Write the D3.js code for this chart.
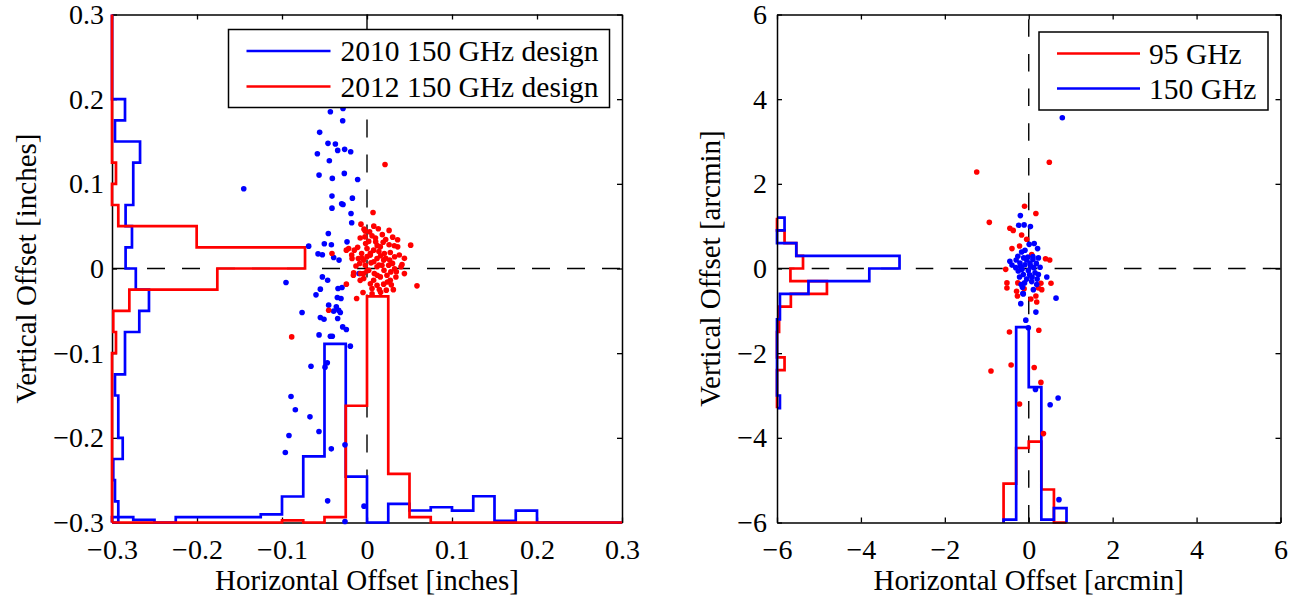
<!DOCTYPE html>
<html><head><meta charset="utf-8">
<script src="https://cdn.jsdelivr.net/npm/d3@7"></script>
<style>
body{margin:0;background:#fff}
svg{display:block}
text{font-family:"Liberation Serif","Times New Roman",serif;fill:#000}
</style>
</head><body>
<svg id="chart" width="1296" height="598"></svg>
<script>
// ---------------- DATA ----------------
// Left panel (inches)
const leftTicks = [-0.3,-0.2,-0.1,0,0.1,0.2,0.3];
const leftTickLabels = ["\u22120.3","\u22120.2","\u22120.1","0","0.1","0.2","0.3"];
const leftEdges = [-0.3,-0.275,-0.25,-0.225,-0.2,-0.175,-0.15,-0.125,-0.1,-0.075,-0.05,-0.025,0,0.025,0.05,0.075,0.1,0.125,0.15,0.175,0.2,0.225,0.25,0.275,0.3];
// vertical histograms (bins along y, low to high): x value reached
const left2010VertHist = [-0.2926,-0.2965,-0.2985,-0.2874,-0.2926,-0.2926,-0.2965,-0.2847,-0.2847,-0.2679,-0.2565,-0.272,-0.284,-0.2765,-0.284,-0.275,-0.275,-0.267,-0.2965,-0.2847,-0.3,-0.3,-0.3,-0.3];
const left2012VertHist = [-0.3,-0.3,-0.3,-0.3,-0.3,-0.3,-0.3,-0.3,-0.2953,-0.2985,-0.2796,-0.1761,-0.0729,-0.2004,-0.2926,-0.3,-0.2953,-0.3,-0.3,-0.3,-0.3,-0.3,-0.3,-0.3];
// horizontal histograms (bins along x, low to high): y value reached
const left2010HorizHist = [-0.2937,-0.297,-0.3,-0.2937,-0.2937,-0.2937,-0.2937,-0.2905,-0.2693,-0.222,-0.089,-0.2457,-0.3,-0.278,-0.2858,-0.282,-0.286,-0.269,-0.298,-0.286,-0.3,-0.3,-0.3,-0.3];
const left2012HorizHist = [-0.3,-0.3,-0.3,-0.3,-0.3,-0.3,-0.3,-0.3,-0.2976,-0.3,-0.2937,-0.1621,-0.033,-0.2425,-0.2937,-0.3,-0.3,-0.3,-0.3,-0.3,-0.3,-0.3,-0.3,-0.3];
const left2010Points = [[-0.0431,0.1852],[-0.0282,0.1891],[-0.0286,0.1745],[-0.0557,0.1608],[-0.0459,0.1478],[-0.0372,0.1470],[-0.0345,0.1395],[-0.0263,0.1407],[-0.0192,0.1379],[-0.0584,0.1355],[-0.0443,0.1273],[-0.0564,0.1103],[-0.0408,0.1064],[-0.0267,0.1123],[-0.0110,0.1052],[-0.1450,0.0942],[-0.0412,0.0855],[-0.0172,0.0831],[-0.0412,0.0713],[-0.0298,0.0764],[-0.0282,0.0756],[-0.0188,0.0650],[-0.0180,0.0540],[-0.0455,0.0414],[-0.0235,0.0315],[-0.0502,0.0292],[-0.0419,0.0280],[-0.0686,0.0264],[-0.0576,0.0173],[-0.0525,0.0162],[-0.0392,0.0130],[-0.0329,0.0099],[-0.0094,-0.0059],[-0.0953,-0.0165],[-0.0525,-0.0099],[-0.0463,-0.0138],[-0.0549,-0.0244],[-0.0600,-0.0311],[-0.0341,-0.0236],[-0.0294,-0.0225],[-0.0349,-0.0343],[-0.0306,-0.0355],[-0.0451,-0.0433],[-0.0361,-0.0453],[-0.0333,-0.0493],[-0.0392,-0.0504],[-0.0314,-0.0520],[-0.0764,-0.0520],[-0.0549,-0.0579],[-0.0506,-0.0599],[-0.0345,-0.0591],[-0.0286,-0.0690],[-0.0243,-0.0721],[-0.0564,-0.0784],[-0.0431,-0.0800],[-0.0408,-0.0800],[-0.0196,-0.0917],[-0.0659,-0.1154],[-0.0494,-0.1165],[-0.0467,-0.1114],[-0.0894,-0.1512],[-0.0843,-0.1669],[-0.0671,-0.1752],[-0.0918,-0.1972],[-0.0565,-0.1925],[-0.0961,-0.2173],[-0.0420,-0.2130],[-0.0259,-0.2083],[-0.0463,-0.2744],[-0.0035,-0.2807],[-0.0259,-0.2988]];
const left2012Points = [[0.0212,0.1229],[0.0071,0.0662],[-0.0071,0.0524],[-0.0035,0.0465],[0.0031,0.0433],[0.0133,0.0469],[-0.0024,0.0374],[0.0059,0.0386],[0.0302,0.0370],[-0.0016,0.0296],[0.0102,0.0315],[0.0220,0.0343],[0.0321,0.0268],[0.0361,0.0256],[0.0514,0.0276],[-0.0149,0.0217],[-0.0063,0.0177],[0.0000,0.0236],[0.0078,0.0217],[0.0157,0.0256],[0.0204,0.0177],[0.0274,0.0189],[-0.0216,0.0236],[-0.0243,0.0217],[-0.0102,0.0118],[-0.0039,0.0099],[0.0039,0.0158],[0.0118,0.0118],[0.0196,0.0099],[0.0267,0.0099],[0.0325,0.0138],[0.0412,0.0047],[-0.0176,0.0118],[-0.0086,0.0059],[-0.0020,0.0039],[0.0047,0.0067],[0.0118,0.0020],[0.0176,0.0039],[0.0255,0.0039],[0.0325,-0.0004],[0.0345,-0.0039],[-0.0157,-0.0051],[-0.0078,-0.0059],[0.0000,-0.0028],[0.0086,-0.0059],[0.0157,-0.0099],[0.0235,-0.0079],[0.0274,-0.0138],[0.0588,-0.0205],[-0.0039,-0.0118],[0.0078,-0.0138],[0.0118,-0.0197],[0.0196,-0.0185],[0.0286,-0.0193],[-0.0243,-0.0185],[0.0059,-0.0236],[0.0145,-0.0248],[0.0227,-0.0256],[-0.0047,-0.0284],[-0.0122,-0.0355],[-0.0412,0.0177],[-0.0451,-0.0493],[-0.0886,-0.0808],[0.002,0.032],[0.012,0.027],[0.018,0.040],[-0.008,0.036],[0.026,0.028],[0.004,0.018],[0.014,0.020],[-0.011,0.025],[0.022,0.012],[0.030,0.006],[-0.006,0.012],[0.008,0.008],[0.016,0.015],[-0.013,0.003],[0.002,-0.002],[0.020,-0.002],[0.028,-0.004],[0.012,-0.008],[-0.008,-0.014],[0.004,-0.018],[0.016,-0.028],[0.024,-0.016],[0.034,-0.010],[0.038,0.016],[0.044,0.012],[-0.018,0.016],[-0.002,0.044],[0.008,0.050],[0.026,0.045],[0.036,0.034],[-0.004,-0.006],[0.010,0.036],[0.031,-0.025],[0.000,0.014],[0.019,0.031],[-0.016,-0.008],[0.040,0.002],[0.006,-0.030],[0.044,-0.006],[0.014,0.004]];

// Right panel (arcmin)
const rightTicks = [-6,-4,-2,0,2,4,6];
const rightTickLabels = ["\u22126","\u22124","\u22122","0","2","4","6"];
const rightVertEdges = [-3.3,-3.0,-2.7,-2.4,-2.1,-1.8,-1.5,-1.2,-0.9,-0.6,-0.3,0,0.3,0.6,0.9,1.2];
const right95VertHist  = [-6,-6,-6,-5.82,-6,-6,-5.95,-5.95,-5.67,-4.81,-5.68,-5.38,-5.54,-5.82,-6];
const right150VertHist = [-5.93,-6,-6,-6,-6,-6,-6,-5.93,-5.93,-5.25,-3.80,-3.08,-5.54,-6,-5.82];
const rightHorizEdges = [-0.6,-0.3,0,0.3,0.6,0.9];
const right95HorizHist  = [-5.08,-4.24,-4.09,-5.22,-6];
const right150HorizHist = [-5.93,-1.387,-2.80,-5.93,-5.66];
const right95Points = [[0.49,2.51],[-1.24,2.28],[-0.94,1.09],[-0.10,1.47],[0.17,1.30],[-0.45,0.95],[-0.37,0.90],[-0.17,0.79],[-0.05,0.69],[-0.22,0.53],[-0.40,0.47],[0.07,0.33],[0.40,0.23],[0.50,0.20],[-0.55,-0.02],[0.53,-0.35],[-0.52,-0.34],[-0.52,-0.46],[-0.29,-0.54],[-0.27,-0.65],[0.23,-0.46],[0.31,-0.50],[0.29,-0.35],[0.05,-0.72],[0.19,-0.79],[0.17,-0.65],[-0.11,-0.48],[-0.26,-0.34],[-0.46,-1.50],[0.24,-1.46],[-0.90,-2.42],[-0.42,-2.28],[0.13,-2.34],[0.29,-2.69],[-0.22,-3.20],[0.35,-3.90]];
const right150Points = [[0.80,3.56],[-0.20,1.25],[-0.24,1.02],[-0.11,1.03],[0.04,0.99],[0.13,0.59],[0.21,0.47],[0.01,0.57],[0.43,-0.20],[0.65,-0.70],[-0.19,-0.83],[0.17,-1.03],[-0.14,-0.59],[0.11,-0.50],[-0.07,-1.22],[-0.01,-1.40],[0.16,-2.86],[0.70,-3.06],[0.51,-3.22],[0.72,-5.46],[-0.17,0.39],[-0.09,0.43],[-0.26,0.29],[0.23,0.25],[-0.45,0.17],[-0.40,0.08],[-0.31,0.02],[-0.21,0.13],[-0.09,0.09],[0.03,0.13],[0.27,0.03],[-0.25,-0.06],[-0.13,-0.14],[-0.01,-0.05],[0.15,-0.10],[0.23,-0.14],[-0.18,-0.38],[-0.10,-0.34],[-0.15,-0.44],[0.07,-0.31],[-0.13,-0.60],[0.19,-0.38],[-0.05,0.20],[0.10,0.22],[-0.12,0.25],[0.05,0.05],[-0.20,0.05],[0.12,0.02],[-0.30,0.20],[0.18,0.12],[-0.02,0.27],[0.08,-0.20],[-0.22,-0.20],[-0.05,-0.25],[0.02,-0.15],[-0.16,-0.02],[0.20,-0.25],[0.10,0.28]];

const leftLegend = ["2010 150 GHz design","2012 150 GHz design"];
const rightLegend = ["95 GHz","150 GHz"];
const BLUE = "#0000ff", RED = "#ff0000";

// ---------------- DRAW ----------------
const svg = d3.select("#chart");
const TOP = 14.5, BOTTOM = 522.5;
const FONT = "Liberation Serif, Times New Roman, serif";

function stairsPath(edges, vals, base, xs, ys, vertical){
  const p = d3.path();
  const pt = (a,b)=> vertical ? [xs(b), ys(a)] : [xs(a), ys(b)];
  let q = pt(edges[0], base); p.moveTo(q[0], q[1]);
  for (let i=0;i<vals.length;i++){
    q = pt(edges[i], vals[i]); p.lineTo(q[0], q[1]);
    q = pt(edges[i+1], vals[i]); p.lineTo(q[0], q[1]);
  }
  q = pt(edges[edges.length-1], base); p.lineTo(q[0], q[1]);
  return p.toString();
}

function drawPanel(o){
  const xs = d3.scaleLinear().domain(o.domain).range([o.x0, o.x1]);
  const ys = d3.scaleLinear().domain(o.domain).range([BOTTOM, TOP]);
  const g = svg.append("g");
  const dash = o.dash;
  g.append("line").attr("x1", xs(0)).attr("x2", xs(0)).attr("y1", ys(o.domain[0])).attr("y2", ys(o.domain[1]))
    .attr("stroke","#000").attr("stroke-width",1.4).attr("stroke-dasharray",dash);
  g.append("line").attr("x1", xs(o.domain[0])).attr("x2", xs(o.domain[1])).attr("y1", ys(0)).attr("y2", ys(0))
    .attr("stroke","#000").attr("stroke-width",1.4).attr("stroke-dasharray",dash);

  function axes(){
    const fmt = (d,i)=>o.labels[i];
    const ax = g.append("g");
    ax.append("g").attr("transform",`translate(0,${BOTTOM})`)
      .call(d3.axisBottom(xs).tickValues(o.ticks).tickFormat(fmt).tickSize(-5).tickSizeOuter(0).tickPadding(16.5));
    ax.append("g").attr("transform",`translate(0,${TOP})`)
      .call(d3.axisTop(xs).tickValues(o.ticks).tickFormat("").tickSize(-5).tickSizeOuter(0));
    ax.append("g").attr("transform",`translate(${o.x0},0)`)
      .call(d3.axisLeft(ys).tickValues(o.ticks).tickFormat(fmt).tickSize(-5).tickSizeOuter(0).tickPadding(o.yPad));
    ax.append("g").attr("transform",`translate(${o.x1},0)`)
      .call(d3.axisRight(ys).tickValues(o.ticks).tickFormat("").tickSize(-5).tickSizeOuter(0));
    ax.selectAll("g").attr("font-family",FONT);
    ax.selectAll(".domain").attr("stroke","#000").attr("stroke-width",1.5);
    ax.selectAll(".tick line").attr("stroke","#000").attr("stroke-width",1.3);
    ax.selectAll(".tick text").attr("font-size",28).attr("font-family",FONT).attr("fill","#000");
  }
  function hists(){
    o.hists.forEach(h=>{
      g.append("path").attr("d", stairsPath(h.edges, h.vals, o.domain[0], xs, ys, h.vertical))
        .attr("fill","none").attr("stroke",h.color).attr("stroke-width",2.7).attr("stroke-linejoin","miter");
    });
  }
  function points(){
    o.points.forEach(s=>{
      g.append("g").selectAll("circle").data(s.data).join("circle")
        .attr("cx",d=>xs(d[0])).attr("cy",d=>ys(d[1])).attr("r",2.8).attr("fill",s.color);
    });
  }
  if (o.axesFirst){ axes(); hists(); points(); } else { hists(); axes(); points(); }

  svg.append("text").attr("x",(o.x0+o.x1)/2).attr("y",590).attr("text-anchor","middle")
    .attr("font-size",29).text(o.xTitle);
  svg.append("text").attr("transform",`translate(${o.yTitleX},${(TOP+BOTTOM)/2}) rotate(-90)`)
    .attr("text-anchor","middle").attr("font-size",29).text(o.yTitle);

  const L = o.legend;
  const lg = svg.append("g");
  lg.append("rect").attr("x",L.x).attr("y",L.y).attr("width",L.w).attr("height",L.h)
    .attr("fill","#fff").attr("stroke","#000").attr("stroke-width",1.5);
  L.items.forEach((it,i)=>{
    const yy = L.y + L.first + i*L.step;
    lg.append("line").attr("x1",L.x+L.lx0).attr("x2",L.x+L.lx1).attr("y1",yy).attr("y2",yy)
      .attr("stroke",it.color).attr("stroke-width",2.7);
    lg.append("text").attr("x",L.x+L.tx).attr("y",yy+10).attr("font-size",29.5).text(it.label);
  });
}

drawPanel({
  domain:[-0.3,0.3], x0:112, x1:622, ticks:leftTicks, labels:leftTickLabels, yPad:8,
  dash:"18,17", axesFirst:true,
  hists:[
    {edges:leftEdges, vals:left2010VertHist, vertical:true, color:BLUE},
    {edges:leftEdges, vals:left2010HorizHist, vertical:false, color:BLUE},
    {edges:leftEdges, vals:left2012VertHist, vertical:true, color:RED},
    {edges:leftEdges, vals:left2012HorizHist, vertical:false, color:RED}
  ],
  points:[{data:left2010Points,color:BLUE},{data:left2012Points,color:RED}],
  xTitle:"Horizontal Offset [inches]", yTitle:"Vertical Offset [inches]", yTitleX:36,
  legend:{x:228.5,y:29.5,w:381,h:78,first:21.5,step:35.5,lx0:18,lx1:102,tx:112,
    items:[{label:leftLegend[0],color:BLUE},{label:leftLegend[1],color:RED}]}
});

drawPanel({
  domain:[-6,6], x0:777, x1:1280.5, ticks:rightTicks, labels:rightTickLabels, yPad:10,
  dash:"17.5,17.2", axesFirst:false,
  hists:[
    {edges:rightVertEdges, vals:right95VertHist, vertical:true, color:RED},
    {edges:rightHorizEdges, vals:right95HorizHist, vertical:false, color:RED},
    {edges:rightVertEdges, vals:right150VertHist, vertical:true, color:BLUE},
    {edges:rightHorizEdges, vals:right150HorizHist, vertical:false, color:BLUE}
  ],
  points:[{data:right95Points,color:RED},{data:right150Points,color:BLUE}],
  xTitle:"Horizontal Offset [arcmin]", yTitle:"Vertical Offset [arcmin]", yTitleX:720,
  legend:{x:1039,y:32,w:229,h:78,first:21.5,step:35,lx0:18,lx1:101,tx:110,
    items:[{label:rightLegend[0],color:RED},{label:rightLegend[1],color:BLUE}]}
});
</script>
</body></html>
